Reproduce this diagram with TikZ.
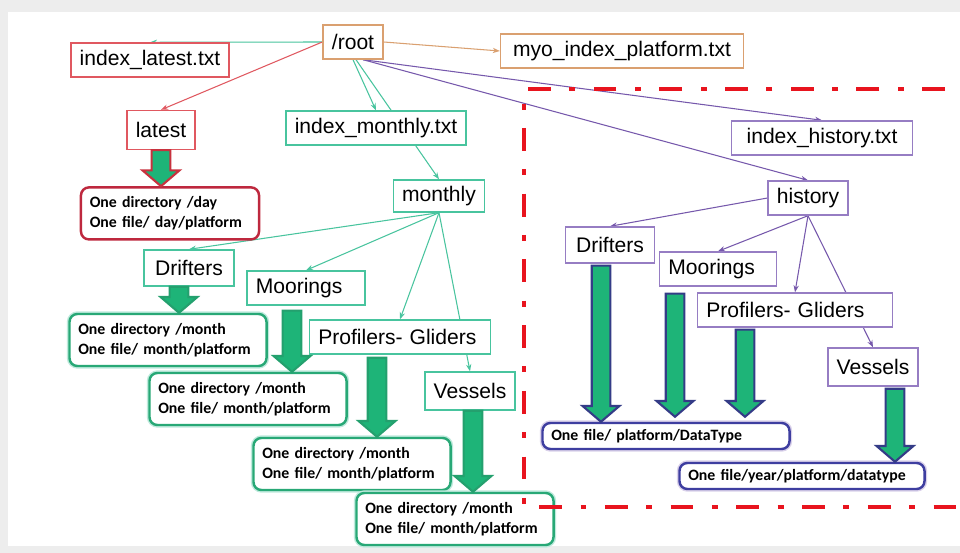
\documentclass[tikz,border=0pt]{standalone}
\usepackage{fontspec}
\setmainfont{Liberation Sans}
\newfontfamily\notefont{Carlito}
\usepackage{tikz}
\usetikzlibrary{arrows.meta, positioning, calc, backgrounds}

\definecolor{tealline}{RGB}{72,196,158}
\definecolor{redline}{RGB}{224,88,96}
\definecolor{orangeline}{RGB}{218,160,112}
\definecolor{purpleline}{RGB}{118,88,172}
\definecolor{purplebox}{RGB}{150,125,195}
\definecolor{arrowfill}{RGB}{30,180,120}
\definecolor{arrowteal}{RGB}{36,160,110}
\definecolor{arrowred}{RGB}{200,50,62}
\definecolor{arrownavy}{RGB}{52,60,135}
\definecolor{notegreen}{RGB}{40,168,118}
\definecolor{notenavy}{RGB}{62,62,160}
\definecolor{notered}{RGB}{190,40,62}
\definecolor{framered}{RGB}{232,20,30}

% big block arrow from a start point down to an end point
\newcommand{\fatarrow}[3][arrowteal]{%
  \draw[fill=arrowfill, draw=#1, line width=1.2pt, line join=miter]
    let \p1=(#2), \p2=(#3) in
    (\x1-5.3pt,\y1) -- (\x1-5.3pt,\y2+9pt) -- (\x1-10.5pt,\y2+9pt) -- (\x1,\y2)
    -- (\x1+10.5pt,\y2+9pt) -- (\x1+5.3pt,\y2+9pt) -- (\x1+5.3pt,\y1) -- cycle;}

\begin{document}
\begin{tikzpicture}[
        x=0.02cm, y=-0.02cm,
        file/.style={rectangle, draw, fill=white, line width=0.8pt, minimum height=0.68cm, inner xsep=5pt, align=left, font=\fontsize{12}{14}\selectfont},
        note/.style={rectangle, rounded corners=4.5pt, draw, fill=white, line width=1.4pt, minimum height=1.04cm, inner xsep=5pt, align=left, font=\notefont\bfseries\fontsize{9}{11.3}\selectfont},
        link/.style={-{Stealth[length=4pt,width=3pt]}, line width=0.6pt}
    ]
    \useasboundingbox (0,0) rectangle (960,553);

    % top level
    \node[file, draw=orangeline, minimum width=1.2cm] (root) at (353,42) {/root};
    \node[file, draw=redline, minimum width=3.14cm] (ilatest) at (150,60) {index\_latest.txt};
    \node[file, draw=orangeline, minimum width=4.86cm] (myo) at (622,51) {myo\_index\_platform.txt};

    % latest branch
    \node[file, draw=redline, minimum width=1.32cm, minimum height=0.78cm] (latest) at (161,130) {latest};
    \node[note, draw=notered, text width=3.21cm, below=0.72cm of latest, xshift=0.18cm] (lres) {One directory /day\\One file/ day/platform};

    % monthly branch
    \node[file, draw=tealline, minimum width=3.6cm] (imonthly) at (376,128) {index\_monthly.txt};
    \node[file, draw=tealline, minimum width=1.72cm, minimum height=0.64cm] (monthly) at (439,196) {monthly};
    \node[file, draw=tealline, minimum width=1.8cm, minimum height=0.72cm] (ldrift) at (189,268) {Drifters};
    \node[file, draw=tealline, text width=2.01cm] (lmoor) at (306,288) {Moorings};
    \node[file, draw=tealline, text width=3.27cm] (lprof) at (400,337) {Profilers- Gliders};
    \node[file, draw=tealline, minimum width=1.62cm, minimum height=0.76cm] (lvess) at (470,391) {Vessels};
    \node[note, draw=notegreen, text width=3.59cm, preaction={draw=tealline!35, line width=3pt}] (lres1) at (168,340) {One directory /month\\One file/ month/platform};
    \node[note, draw=notegreen, text width=3.59cm, preaction={draw=tealline!35, line width=3pt}] (lres2) at (248,399) {One directory /month\\One file/ month/platform};
    \node[note, draw=notegreen, text width=3.59cm, preaction={draw=tealline!35, line width=3pt}] (lres3) at (352,464) {One directory /month\\One file/ month/platform};
    \node[note, draw=notegreen, text width=3.59cm, preaction={draw=tealline!35, line width=3pt}] (lres4) at (455,519) {One directory /month\\One file/ month/platform};

    % history branch
    \node[file, draw=purplebox, minimum width=3.62cm] (ihist) at (822,138) {index\_history.txt};
    \node[file, draw=purplebox, minimum width=1.58cm] (history) at (808,198) {history};
    \node[file, draw=purplebox, minimum width=1.78cm, minimum height=0.72cm] (rdrift) at (610,245) {Drifters};
    \node[file, draw=purplebox, text width=1.99cm] (rmoor) at (718,269) {Moorings};
    \node[file, draw=purplebox, text width=3.55cm] (rprof) at (795,310) {Profilers- Gliders};
    \node[file, draw=purplebox, minimum width=1.78cm, minimum height=0.76cm] (rvess) at (873,367) {Vessels};
    \node[note, draw=notenavy, text width=4.59cm, minimum height=0.52cm, preaction={draw=purplebox!35, line width=3pt}] (rtype) at (666,436) {One file/ platform/DataType};
    \node[note, draw=notenavy, text width=4.55cm, minimum height=0.52cm, preaction={draw=purplebox!35, line width=3pt}] (ryear) at (802,476) {One file/year/platform/datatype};

    \begin{scope}[on background layer]
    \fill[gray!14] (0,0) rectangle (960,553);
    \fill[white] (8,12) rectangle (960,546);
    \draw[link, tealline] (root.west) -- (ilatest.north);
    \draw[link, redline] (root.west) -- (latest.north);
    \draw[link, orangeline] (root.east) -- (myo.west);
    \draw[link, tealline] (root.south) -- (imonthly.north);
    \draw[link, tealline] ([xshift=0.06cm]root.south) -- (monthly.north);
    \draw[link, purpleline] ([xshift=0.2cm]root.south) -- (ihist.north);
    \draw[link, purpleline] ([xshift=0.2cm]root.south) -- (history.north);
    \foreach \kid in {ldrift, lmoor, lprof, lvess}
        \draw[link, tealline] (monthly.south) -- (\kid.north);
    \draw[link, purpleline] (history.west) -- (rdrift.north);
    \foreach \kid in {rmoor, rprof, rvess}
        \draw[link, purpleline] (history.south) -- (\kid.north);
    \end{scope}

    \fatarrow[arrowred]{latest.south}{lres.north}
    \fatarrow{[xshift=-0.2cm]ldrift.south}{lres1.north}
    \fatarrow{[xshift=-0.28cm,yshift=-0.1cm]lmoor.south}{lres2.north}
    \fatarrow{[xshift=-0.46cm,yshift=-0.06cm]lprof.south}{lres3.north}
    \fatarrow{[xshift=0.06cm]lvess.south}{lres4.north}
    \fatarrow[arrownavy]{[xshift=-0.18cm,yshift=-0.04cm]rdrift.south}{rtype.north}
    \fatarrow[arrownavy]{[xshift=-0.86cm,yshift=-0.14cm]rmoor.south}{[yshift=0.1cm]rtype.north}
    \fatarrow[arrownavy]{[xshift=-1.0cm,yshift=-0.04cm]rprof.south}{[yshift=0.1cm]rtype.north}
    \fatarrow[arrownavy]{[xshift=0.44cm,yshift=-0.04cm]rvess.south}{ryear.north}

    % history frame
    \draw[framered, line width=2.8pt, dash pattern=on 13pt off 10.5pt on 3.4pt off 10.5pt]
        (945,89) -- (524,89) -- (524,507) -- (960,507);
\end{tikzpicture}
\end{document}
